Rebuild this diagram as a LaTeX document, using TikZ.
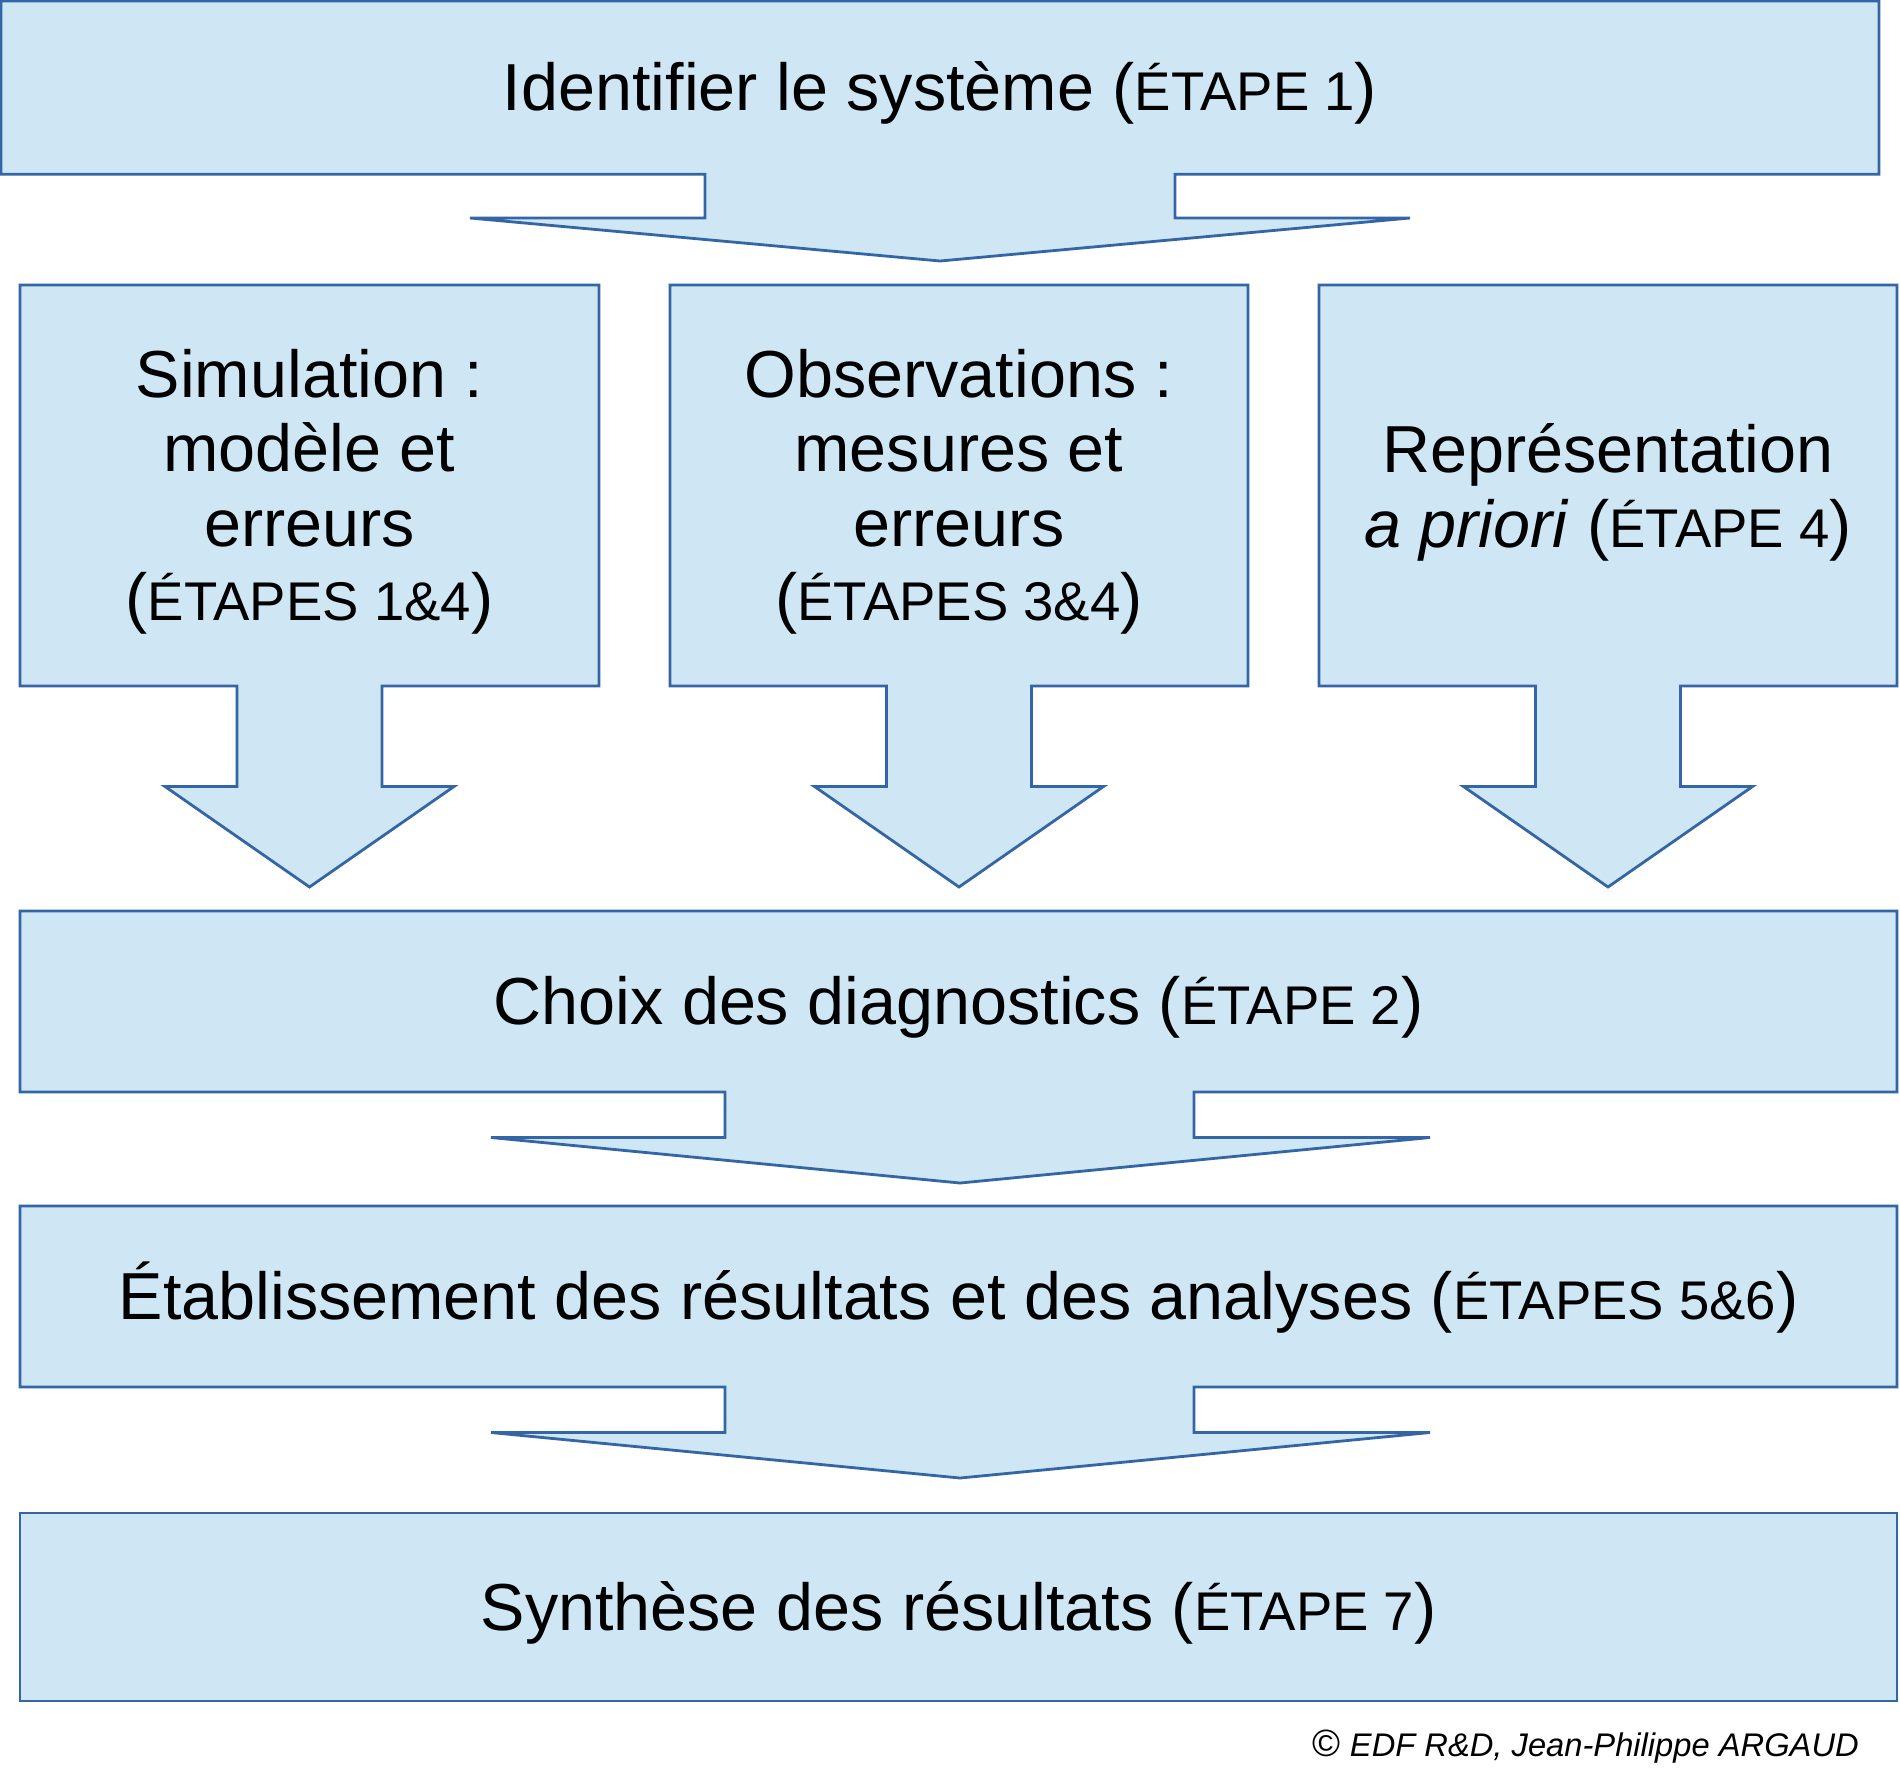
\documentclass[tikz,border=0pt]{standalone}
\usepackage{fontspec}
\setmainfont{Liberation Sans}
\definecolor{blkfill}{RGB}{207,231,245}
\definecolor{blkline}{RGB}{52,101,164}
\newcommand{\etp}[1]{{\fontsize{54.5}{60}\selectfont #1}}
\tikzset{
  blk/.style={fill=blkfill,draw=blkline,line width=2.8pt,line join=miter},
  txt/.style={inner sep=0pt,anchor=base,font=\fontsize{66.5}{75}\selectfont},
  copy/.style={inner sep=0pt,anchor=base east,font=\fontsize{32.7}{36}\selectfont}
}
\begin{document}
\begin{tikzpicture}[x=1pt,y=-1pt]
\useasboundingbox[fill=white] (0,0) rectangle (1900,1781);
% top box with wide arrow
\path[blk] (1,1) -- (1879,1) -- (1879,174.3) -- (1175,174.3) -- (1175,218) -- (1410,218) -- (940,261)
  -- (470,218) -- (705,218) -- (705,174.3) -- (1,174.3) -- cycle;
% three middle boxes with arrows
\foreach \cx/\l/\r in {309.5/20/599, 959/670/1248, 1608/1319/1897}{
  \path[blk] (\l,285) -- (\r,285) -- (\r,686) -- ({\cx+72.5},686) -- ({\cx+72.5},786.5) -- ({\cx+144.5},786.5)
    -- (\cx,887) -- ({\cx-144.5},786.5) -- ({\cx-72.5},786.5) -- ({\cx-72.5},686) -- (\l,686) -- cycle;
}
% Choix box with wide arrow
\path[blk] (20,911) -- (1897,911) -- (1897,1092) -- (1194,1092) -- (1194,1137.5) -- (1430,1137.5) -- (960,1183)
  -- (491,1137.5) -- (725,1137.5) -- (725,1092) -- (20,1092) -- cycle;
% Etablissement box with wide arrow
\path[blk] (20,1206) -- (1897,1206) -- (1897,1387) -- (1194,1387) -- (1194,1432.5) -- (1430,1432.5) -- (960,1478)
  -- (491,1432.5) -- (725,1432.5) -- (725,1387) -- (20,1387) -- cycle;
% Synthese box
\path[blk] (20,1513) rectangle (1897,1701);

% texts
\node[txt] (t1) at (940,110.5) {Identifier le système (\etp{ÉTAPE 1})};

\node[txt] (s1) at (309.5,397) {Simulation :};
\node[txt] (s2) at (309.5,471.5) {modèle et};
\node[txt] (s3) at (309.5,546) {erreurs};
\node[txt] (s4) at (309.5,620) {(\etp{ÉTAPES 1\&4})};

\node[txt] (o1) at (959,397) {Observations :};
\node[txt] (o2) at (959,471.5) {mesures et};
\node[txt] (o3) at (959,546) {erreurs};
\node[txt] (o4) at (959,620) {(\etp{ÉTAPES 3\&4})};

\node[txt] (r1) at (1608,472) {Représentation};
\node[txt] (r2) at (1608,547) {\textit{a priori} (\etp{ÉTAPE 4})};

\node[txt] (c1) at (958.5,1024.5) {Choix des diagnostics (\etp{ÉTAPE 2})};
\node[txt] (e1) at (958.5,1319.5) {Établissement des résultats et des analyses (\etp{ÉTAPES 5\&6})};
\node[txt] (y1) at (958.5,1630) {Synthèse des résultats (\etp{ÉTAPE 7})};

\node[copy] (cp) at (1859,1756.5) {{\fontsize{38}{40}\selectfont ©} \itshape EDF R\&D, Jean-Philippe ARGAUD};
\end{tikzpicture}
\end{document}
